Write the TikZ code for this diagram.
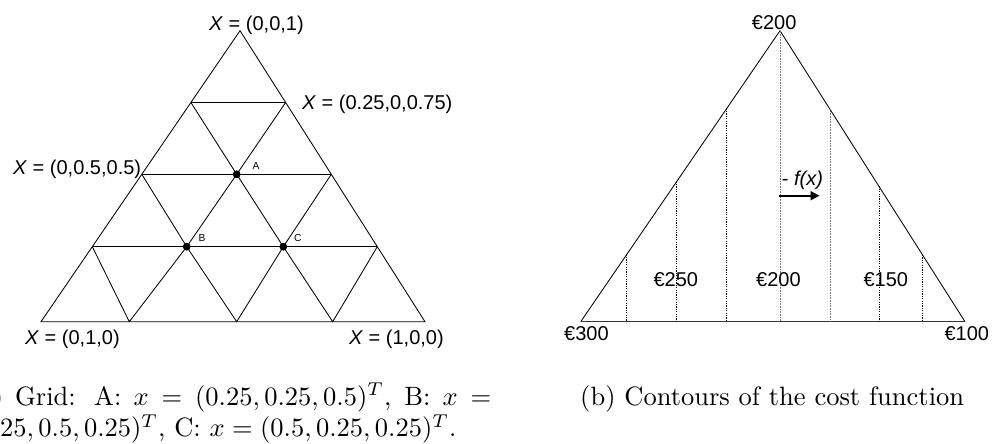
\documentclass[tikz,border=0pt]{standalone}
\usepackage{fontspec}
\usepackage{graphicx}
\newfontfamily\labfont{Liberation Sans}
\usetikzlibrary{arrows.meta}
\begin{document}
\begin{tikzpicture}[x=1pt,y=-1pt,
  edge/.style={line width=0.85pt},
  contour/.style={line width=0.65pt, dash pattern=on 1.2pt off 1.2pt},
  midcontour/.style={line width=0.75pt, black!55, dash pattern=on 0.8pt off 0.8pt},
  lab/.style={font=\labfont\fontsize{20}{24}\selectfont, inner sep=0pt},
  small/.style={font=\labfont\fontsize{10.2}{12}\selectfont, inner sep=0pt},
  dot/.style={circle, fill=black, inner sep=0pt, minimum size=7.8pt},
  captionnode/.style={inner sep=0pt, anchor=base west}]
\useasboundingbox (0,0) rectangle (995,444);

% ---------- left: grid ----------
\coordinate (T) at (240,30.7);
\coordinate (BL) at (41,321.7);
\coordinate (BR) at (425,321.7);
\coordinate (r1a) at (190.9,102.5);
\coordinate (r1b) at (285.65,102.5);
\coordinate (r2a) at (141.8,174.3);
\coordinate (A) at (236.7,174.3);
\coordinate (r2c) at (331.3,174.3);
\coordinate (r3a) at (92.3,246.7);
\coordinate (B) at (186.7,246.7);
\coordinate (C) at (283.3,246.7);
\coordinate (r3d) at (377.3,246.7);
\coordinate (b1) at (129.3,321.7);
\coordinate (b2) at (236.7,321.7);
\coordinate (b3) at (332.7,321.7);

\draw[edge] (T) -- (BL) -- (BR) -- cycle;
\draw[edge] (r1a) -- (r1b);
\draw[edge] (r2a) -- (r2c);
\draw[edge] (r3a) -- (r3d);
\draw[edge] (r1a) -- (A) -- (r1b);
\draw[edge] (r2a) -- (B) -- (A) -- (C) -- (r2c);
\draw[edge] (r3a) -- (b1) -- (B) -- (b2) -- (C) -- (b3) -- (r3d);

\node[dot] (dA) at (A) {};
\node[dot] (dB) at (B) {};
\node[dot] (dC) at (C) {};
\node[small, anchor=base west] (lA) at (252.3,169.3) {A};
\node[small, anchor=base west] (lB) at (198.3,241.7) {B};
\node[small, anchor=base west] (lC) at (294,241.7) {C};

\node[lab, anchor=base west] (x001) at (209,30.5) {\textit{X} = (0,0,1)};
\node[lab, anchor=base west] (x025) at (302,109.3) {\textit{X} = (0.25,0,0.75)};
\node[lab, anchor=base west] (x005) at (13,174) {\textit{X} = (0,0.5,0.5)};
\node[lab, anchor=base west] (x010) at (25,344) {\textit{X} = (0,1,0)};
\node[lab, anchor=base west] (x100) at (349,344) {\textit{X} = (1,0,0)};

% ---------- right: contours ----------
\coordinate (T2) at (780,30.7);
\coordinate (L2) at (580.7,321.7);
\coordinate (R2) at (965,321.7);
\draw[edge] (T2) -- (L2);
\draw[edge] (T2) -- (R2);
\draw[line width=1.1pt, black!80] (L2) -- (R2);

\coordinate (c1t) at (626.7,254.5);  \coordinate (c1b) at (626.7,321.7);
\coordinate (c2t) at (676.7,181.5);  \coordinate (c2b) at (676.7,321.7);
\coordinate (c3t) at (726.7,108.5);  \coordinate (c3b) at (726.7,321.7);
\coordinate (c4b) at (780,321.7);
\coordinate (c5t) at (830,109.4);    \coordinate (c5b) at (830,321.7);
\coordinate (c6t) at (879,186.4);    \coordinate (c6b) at (879,321.7);
\coordinate (c7t) at (922.5,254.9);  \coordinate (c7b) at (922.5,321.7);
\draw[contour] (c1t) -- (c1b);
\draw[contour] (c2t) -- (c2b);
\draw[contour] (c3t) -- (c3b);
\draw[midcontour] (T2) -- (c4b);
\draw[midcontour] (c5t) -- (c5b);
\draw[contour] (c6t) -- (c6b);
\draw[contour] (c7t) -- (c7b);

\coordinate (ar1) at (779.3,195.7);
\coordinate (ar2) at (819.5,195.7);
\draw[line width=1.8pt, -{Triangle[length=9pt,width=9pt]}] (ar1) -- (ar2);
\node[lab, anchor=base west] (fx) at (781.7,185) {- \textit{f(x)}};

\node[lab, anchor=base west] (e200t) at (751.7,29.3) {€200};
\node[lab, anchor=base west] (e250) at (653.3,286.7) {€250};
\node[lab, anchor=base west] (e200) at (756,286.7) {€200};
\node[lab, anchor=base west] (e150) at (863.3,286.7) {€150};
\node[lab, anchor=base west] (e300) at (564,340.5) {€300};
\node[lab, anchor=base west] (e100) at (944.3,340.5) {€100};

% ---------- captions ----------
\node[captionnode] (capa) at (-31,405) {\scalebox{2.65}{\parbox[t]{197pt}{(a) Grid: A: $x = (0.25, 0.25, 0.5)^T$, B: $x =$\linebreak $(0.25, 0.5, 0.25)^T$, C: $x = (0.5, 0.25, 0.25)^T$.}}};
\node[captionnode] (capb) at (580,405) {\scalebox{2.65}{(b) Contours of the cost function}};
\end{tikzpicture}
\end{document}
